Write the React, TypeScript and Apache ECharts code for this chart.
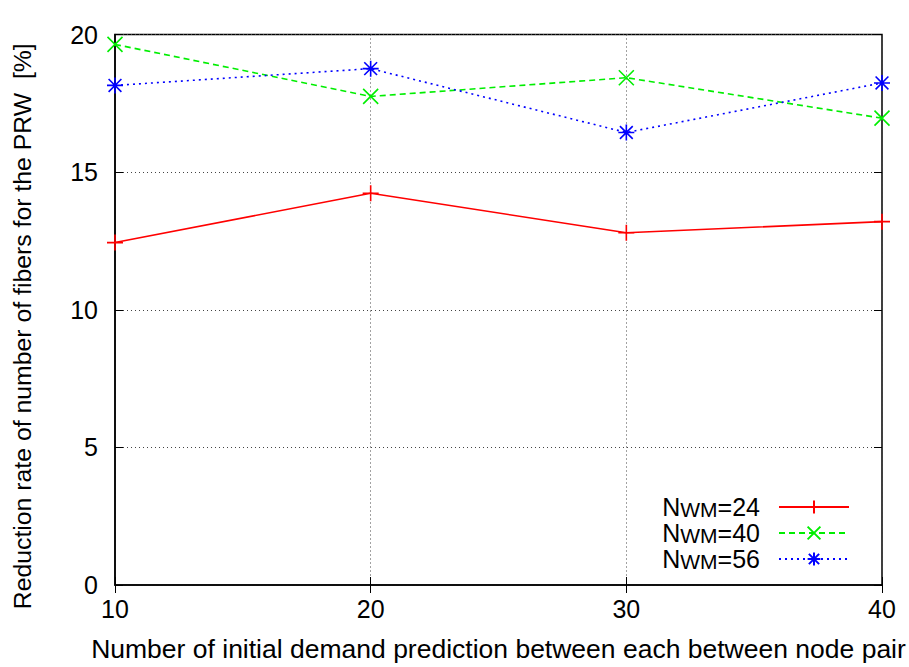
import React, { useEffect, useRef } from "react";
import * as echarts from "echarts";

const xValues = [10, 20, 30, 40];
const seriesNames = ["24", "40", "56"];
const nwm24 = [12.44, 14.23, 12.8, 13.2];
const nwm40 = [19.64, 17.75, 18.43, 16.96];
const nwm56 = [18.15, 18.76, 16.44, 18.24];
const yTicks = [0, 5, 10, 15, 20];

const FONT = "'Liberation Sans', Arial, Helvetica, sans-serif";

const PLUS = "path://M0,10 L20,10 M10,0 L10,20";
const CROSS = "path://M0,0 L20,20 M20,0 L0,20";
const STAR = "path://M0,10 L20,10 M10,0 L10,20 M2,2 L18,18 M18,2 L2,18";

export default function App() {
  const ref = useRef<HTMLDivElement>(null);
  useEffect(() => {
    if (!ref.current) return;
    const chart = echarts.init(ref.current, undefined, { renderer: "svg" });
    const mk = (name: string, data: number[], color: string, type: any, symbol: string, size: number) => ({
      name,
      type: "line",
      data: xValues.map((x, i) => [x, data[i]]),
      symbol,
      symbolSize: size,
      showAllSymbol: true,
      lineStyle: { color, width: 1.6, type },
      itemStyle: { color: "rgba(0,0,0,0)", borderColor: color, borderWidth: 1.6 },
      clip: false,
    });
    chart.setOption({
      animation: false,
      backgroundColor: "#fff",
      textStyle: { fontFamily: FONT },
      grid: { left: 115, right: 27, top: 34.5, bottom: 82, show: true, borderColor: "#000", borderWidth: 1.5, backgroundColor: "transparent" },
      xAxis: [
        {
          type: "value",
          min: 10,
          max: 40,
          interval: 10,
          name: "Number of initial demand prediction between each between node pair",
          nameLocation: "middle",
          nameGap: 50,
          nameTextStyle: { fontSize: 26.5, color: "#000", fontFamily: FONT },
          axisLine: { show: true, lineStyle: { color: "#000", width: 1.5 } },
          axisTick: { show: true, inside: true, length: 8, lineStyle: { color: "#000" } },
          axisLabel: { fontSize: 25, color: "#000", margin: 11, fontFamily: FONT },
          splitLine: { show: true, lineStyle: { color: "#444", width: 1, type: [1, 3] } },
        },
        {
          type: "value",
          position: "top",
          min: 10,
          max: 40,
          interval: 10,
          axisLine: { show: false },
          axisTick: { show: true, inside: true, length: 8, lineStyle: { color: "#000" } },
          axisLabel: { show: false },
          splitLine: { show: false },
        },
      ],
      yAxis: [
        {
          type: "value",
          min: yTicks[0],
          max: yTicks[yTicks.length - 1],
          interval: 5,
          name: "Reduction rate of number of fibers for the PRW  [%]",
          nameLocation: "middle",
          nameGap: 80,
          nameTextStyle: { fontSize: 24.8, color: "#000", fontFamily: FONT, padding: [0, 33, 0, 0] },
          axisLine: { show: true, lineStyle: { color: "#000", width: 1.5 } },
          axisTick: { show: true, inside: true, length: 8, lineStyle: { color: "#000" } },
          axisLabel: { fontSize: 25, color: "#000", margin: 17, fontFamily: FONT },
          splitLine: { show: true, lineStyle: { color: "#444", width: 1, type: [1, 3] } },
        },
        {
          type: "value",
          position: "right",
          min: 0,
          max: 20,
          interval: 5,
          axisLine: { show: false },
          axisTick: { show: true, inside: true, length: 8, lineStyle: { color: "#000" } },
          axisLabel: { show: false },
          splitLine: { show: false },
        },
      ],
      legend: {
        orient: "vertical",
        right: 59,
        bottom: 95,
        align: "right",
        itemWidth: 70,
        itemHeight: 16,
        itemGap: 0,
        padding: 0,
        formatter: (n: string) => "{n|N}{sub|WM}{n|=" + n + "}",
        textStyle: {
          fontSize: 25,
          color: "#000",
          fontFamily: FONT,
          padding: [0, 14, 0, 0],
          rich: {
            n: { fontSize: 25, lineHeight: 24, verticalAlign: "top", color: "#000", fontFamily: FONT },
            sub: { fontSize: 21, lineHeight: 26, verticalAlign: "bottom", color: "#000", fontFamily: FONT },
          },
        },
      },
      series: [
        mk(seriesNames[0], nwm24, "#ff0000", "solid", PLUS, 16),
        mk(seriesNames[1], nwm40, "#00ee00", [6, 4], CROSS, 15),
        mk(seriesNames[2], nwm56, "#0000ff", [2, 4], STAR, 16),
      ],
    });
    return () => chart.dispose();
  }, []);
  return <div ref={ref} style={{ width: 909, height: 667, position: "absolute", left: 0, top: 0 }} />;
}
